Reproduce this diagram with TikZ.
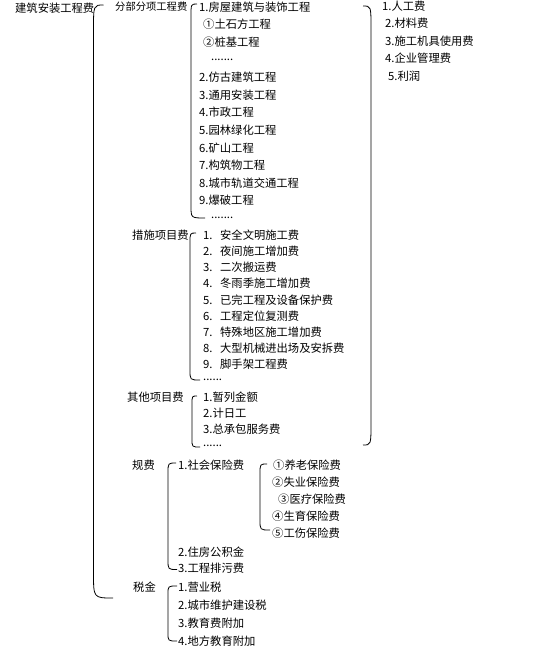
\documentclass[tikz,border=0pt]{standalone}
\usepackage{fontspec}
\setmainfont{Noto Sans CJK SC}
\newfontfamily\cjk{Noto Sans CJK SC}
\usetikzlibrary{calc}
\tikzset{
  lbl/.style={anchor=west, inner sep=0pt, font=\cjk\fontsize{11.3}{12}\selectfont},
  lbrk/.style 2 args={line width=0.8pt, to path={let \p1=(\tikztostart), \p2=(\tikztotarget) in
    .. controls (\x1-#1pt,\y1) .. (\x1-#1pt,\y1-#2pt) -- (\x1-#1pt,\y2+#2pt) .. controls (\x1-#1pt,\y2) .. (\p2)}},
  rbrk/.style 2 args={line width=0.8pt, to path={let \p1=(\tikztostart), \p2=(\tikztotarget) in
    .. controls (\x1+#1pt,\y1) .. (\x1+#1pt,\y1-#2pt) -- (\x1+#1pt,\y2+#2pt) .. controls (\x1+#1pt,\y2) .. (\p2)}}
}
\newcommand{\numbox}[1]{\makebox[17pt][l]{#1}}
\begin{document}
\begin{tikzpicture}[x=1pt,y=1pt]
			\useasboundingbox[fill=white] (0,0) rectangle (543,-648);
			% top level
			\node[lbl] (total) at (15,-8) {建筑安装工程费};
			\node[lbl, font=\cjk\fontsize{10.3}{12}\selectfont] (fbfx) at (115,-7) {分部分项工程费};
			\node[lbl] (cs) at (132,-235) {措施项目费};
			\node[lbl] (qt) at (127,-397) {其他项目费};
			\node[lbl] (gf) at (132,-465) {规费};
			\node[lbl] (sj) at (133,-587) {税金};
			% 分部分项工程费
			\node[lbl] (fb1) at (199,-7) {1.房屋建筑与装饰工程};
			\node[lbl] (fb2) at (203,-24.6) {①土石方工程};
			\node[lbl] (fb3) at (203,-42.2) {②桩基工程};
			\node[lbl] (fb4) at (211,-59.8) {.......};
			\node[lbl] (fb5) at (199,-77.4) {2.仿古建筑工程};
			\node[lbl] (fb6) at (199,-95) {3.通用安装工程};
			\node[lbl] (fb7) at (199,-112.6) {4.市政工程};
			\node[lbl] (fb8) at (199,-130.2) {5.园林绿化工程};
			\node[lbl] (fb9) at (199,-147.8) {6.矿山工程};
			\node[lbl] (fb10) at (199,-165.4) {7.构筑物工程};
			\node[lbl] (fb11) at (199,-183) {8.城市轨道交通工程};
			\node[lbl] (fb12) at (199,-200.6) {9.爆破工程};
			\node[lbl] (fb13) at (211,-218) {.......};
			% 人工费 ... 利润
			\node[lbl] (r1) at (382,-6) {1.人工费};
			\node[lbl] (r2) at (385,-23.5) {2.材料费};
			\node[lbl] (r3) at (385,-41) {3.施工机具使用费};
			\node[lbl] (r4) at (385,-58.5) {4.企业管理费};
			\node[lbl] (r5) at (388,-76) {5.利润};
			% 措施项目费
			\node[lbl] (cs1) at (203,-235) {\numbox{1.}安全文明施工费};
			\node[lbl] (cs2) at (203,-251.2) {\numbox{2.}夜间施工增加费};
			\node[lbl] (cs3) at (203,-267.4) {\numbox{3.}二次搬运费};
			\node[lbl] (cs4) at (203,-283.6) {\numbox{4.}冬雨季施工增加费};
			\node[lbl] (cs5) at (203,-299.8) {\numbox{5.}已完工程及设备保护费};
			\node[lbl] (cs6) at (203,-316) {\numbox{6.}工程定位复测费};
			\node[lbl] (cs7) at (203,-332.2) {\numbox{7.}特殊地区施工增加费};
			\node[lbl] (cs8) at (203,-348.4) {\numbox{8.}大型机械进出场及安拆费};
			\node[lbl] (cs9) at (203,-364.6) {\numbox{9.}脚手架工程费};
			\node[lbl] (cs10) at (203,-380) {......};
			% 其他项目费
			\node[lbl] (qt1) at (203,-397) {1.暂列金额};
			\node[lbl] (qt2) at (203,-413.3) {2.计日工};
			\node[lbl] (qt3) at (203,-429.5) {3.总承包服务费};
			\node[lbl] (qt4) at (203,-446) {......};
			% 规费
			\node[lbl] (gf1) at (178,-465) {1.社会保险费};
			\node[lbl] (gf2) at (178,-552) {2.住房公积金};
			\node[lbl] (gf3) at (178,-568.5) {3.工程排污费};
			\node[lbl] (sb1) at (273,-465) {①养老保险费};
			\node[lbl] (sb2) at (272,-482) {②失业保险费};
			\node[lbl] (sb3) at (278,-499) {③医疗保险费};
			\node[lbl] (sb4) at (272,-516) {④生育保险费};
			\node[lbl] (sb5) at (272,-533) {⑤工伤保险费};
			% 税金
			\node[lbl] (sj1) at (178,-587) {1.营业税};
			\node[lbl] (sj2) at (178,-605) {2.城市维护建设税};
			\node[lbl] (sj3) at (178,-623) {3.教育费附加};
			\node[lbl] (sj4) at (178,-641) {4.地方教育附加};
			% brackets
			\coordinate (rtop) at (363,-6);
			\coordinate (rbot) at (363,-445);
			\draw[lbrk={10}{25}] ($(total.east)+(9,3)$) to ($(sj.west)+(-20,-11)$);
			\draw[lbrk={6}{12}] ($(fb1.west)+(-2,3)$) to ($(fb13.west)+(-6,0)$);
			\draw[lbrk={6}{10}] ($(cs1.west)+(-7,2)$) to ($(cs10.west)+(-3,0)$);
			\draw[lbrk={5}{8}] ($(qt1.west)+(-6,1)$) to ($(qt4.west)+(-3,-1)$);
			\draw[lbrk={8}{10}] ($(gf1.west)+(-2,2)$) to ($(gf3.west)+(-1,-1)$);
			\draw[lbrk={7}{10}] ($(sb1.west)+(-6,1)$) to ($(sb5.west)+(-2,3)$);
			\draw[lbrk={9}{8}] ($(sj1.west)+(-1,1)$) to ($(sj4.west)+(-1,0)$);
			\draw[rbrk={8}{22}] (rtop) to (rbot);
\end{tikzpicture}
\end{document}
